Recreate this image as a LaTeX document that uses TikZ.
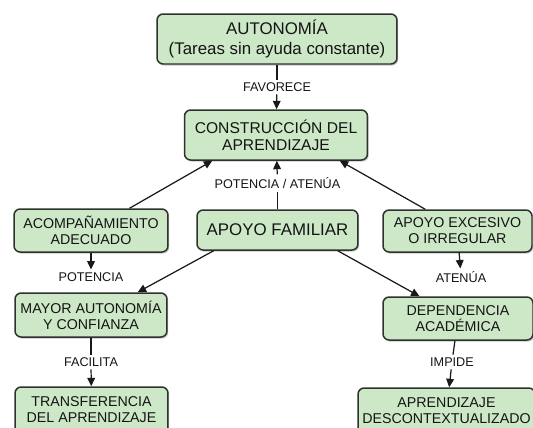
\documentclass[tikz,border=0pt]{standalone}
\usepackage{fontspec}
\setmainfont{Liberation Sans}
\usetikzlibrary{arrows.meta, shadows}
\definecolor{conceptc}{RGB}{205,232,199}
\definecolor{framec}{RGB}{45,50,45}

\begin{document}
\begin{tikzpicture}[x=0.02cm, y=-0.02cm, >={Triangle[length=4.8pt, width=4.4pt]},
  concept/.style={draw=framec, line width=0.85pt, fill=conceptc, rounded corners=3.5pt,
    align=center, inner sep=1pt, text=black!92, font=\fontsize{8.1}{9.2}\selectfont,
    drop shadow={shadow xshift=0.7pt, shadow yshift=-0.9pt, opacity=0.45}},
  linkw/.style={font=\fontsize{7.2}{8}\selectfont, inner sep=1.5pt, text=black!92},
  conn/.style={line width=0.7pt, black!90}]

% canvas in pixels: x in [0,533], y in [0,427], y pointing down
\useasboundingbox (0,0) rectangle (533,427);

%% ── concepts ─────────────────────────────────────────────────────
\node[concept, minimum width=4.8cm, minimum height=1.0cm, font=\fontsize{9.6}{11.3}\selectfont]
  (auto) at (277,39) {AUTONOMÍA\\(Tareas sin ayuda constante)};
\node[concept, minimum width=3.66cm, minimum height=1.0cm, font=\fontsize{8.9}{9.7}\selectfont]
  (constr) at (276,135) {CONSTRUCCIÓN DEL\\APRENDIZAJE};
\node[concept, minimum width=3.22cm, minimum height=0.8cm, font=\fontsize{9.6}{11}\selectfont]
  (apoyo) at (277.5,230) {APOYO FAMILIAR};
\node[concept, minimum width=3.08cm, minimum height=0.86cm] (acomp) at (91,230.5) {ACOMPAÑAMIENTO\\ADECUADO};
\node[concept, minimum width=2.98cm, minimum height=0.84cm] (exces) at (457.5,231) {APOYO EXCESIVO\\O IRREGULAR};
\node[concept, minimum width=3.04cm, minimum height=0.88cm] (mayor) at (91,315) {MAYOR AUTONOMÍA\\Y CONFIANZA};
\node[concept, minimum width=3.0cm, minimum height=0.86cm] (depend) at (458,318.5) {DEPENDENCIA\\ACADÉMICA};
\node[concept, minimum width=3.06cm, minimum height=0.92cm] (transf) at (91.5,410) {TRANSFERENCIA\\DEL APRENDIZAJE};
\node[concept, minimum width=3.54cm, minimum height=0.92cm] (aprend) at (446.5,411) {APRENDIZAJE\\DESCONTEXTUALIZADO};

%% ── linking words ────────────────────────────────────────────────
\node[linkw] (favor) at (277,87) {FAVORECE};
\node[linkw] (potat) at (277.5,183) {POTENCIA / ATENÚA};
\node[linkw] (poten) at (91,277) {POTENCIA};
\node[linkw] (atenua) at (461,277) {ATENÚA};
\node[linkw] (facil) at (91,362) {FACILITA};
\node[linkw] (impide) at (452,362) {IMPIDE};

%% ── connectors ───────────────────────────────────────────────────
\draw[conn] (auto) -- (favor);
\draw[conn, ->] (favor) -- (constr);
\draw[conn] (apoyo) -- (potat);
\draw[conn, ->] (potat) -- (constr);
\draw[conn, ->] (acomp.30) -- (constr.202);
\draw[conn, ->] (exces.146) -- (constr.338);
\draw[conn, ->] (acomp) -- (poten);
\draw[conn, ->] (exces) -- (atenua);
\draw[conn, ->] (apoyo.198) -- (mayor.26);
\draw[conn, ->] (apoyo.341) -- (depend.150);
\draw[conn] (mayor) -- (facil);
\draw[conn, ->] (facil) -- (transf);
\draw[conn] (depend) -- (impide);
\draw[conn, ->] (impide) -- (aprend);

\end{tikzpicture}
\end{document}
